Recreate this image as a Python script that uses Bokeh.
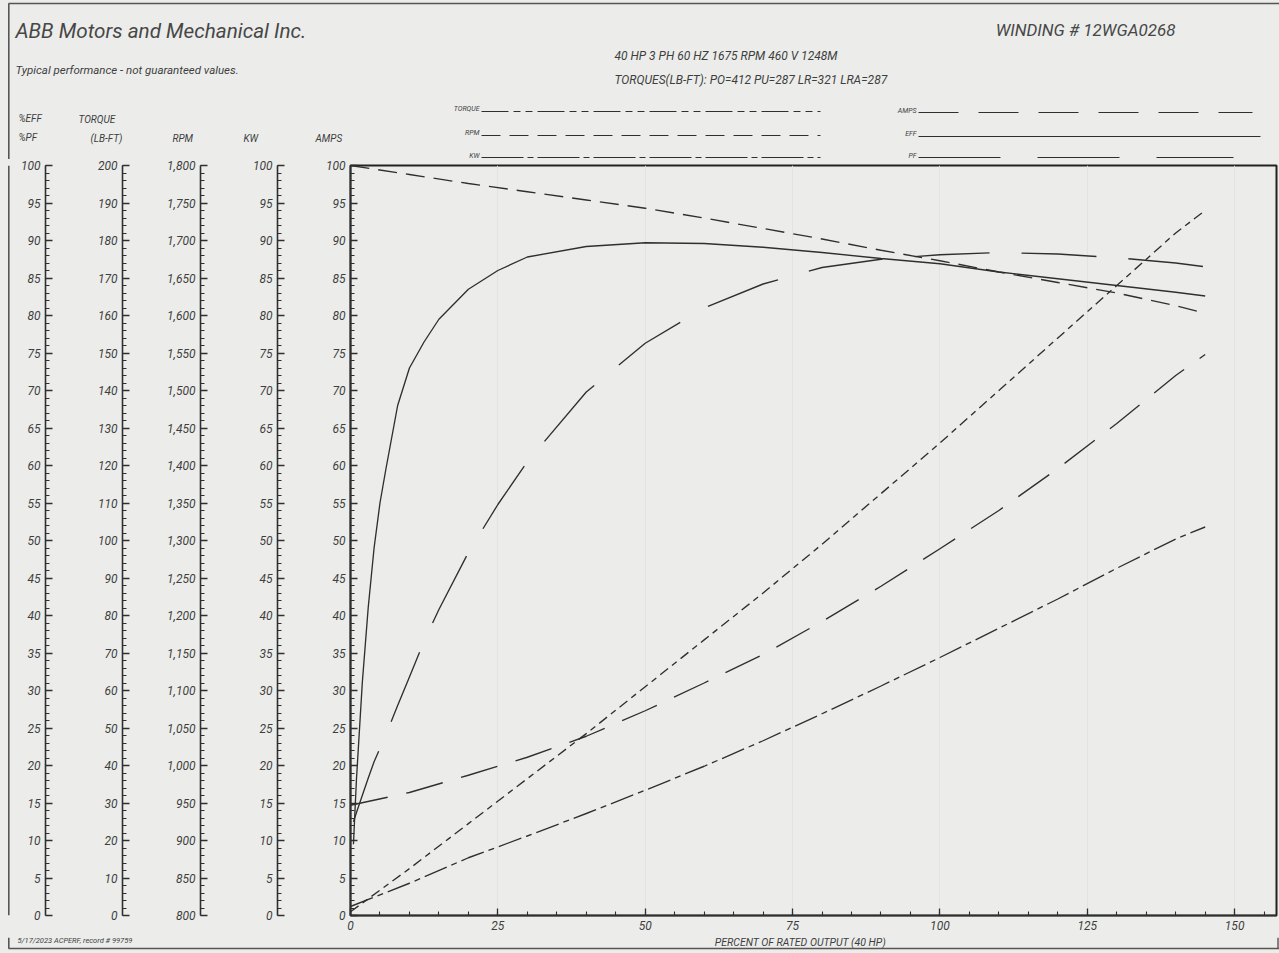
from bokeh.plotting import figure
from bokeh.models import Range1d, SingleIntervalTicker, NumeralTickFormatter
from bokeh.layouts import row, column
from bokeh.embed import file_html
from bokeh.resources import INLINE
from bokeh.core.properties import value

# ---------------- data ----------------
# percent of rated output for the steep efficiency / power-factor curves
LOAD_FINE = [0.5, 1, 2, 3, 4, 5, 6, 8, 10, 12.5, 15, 20, 25, 30, 40, 50,
             60, 70, 80, 90, 100, 110, 120, 130, 140, 145]
EFF_PCT = [9.5, 18, 31, 41, 49, 55, 59.5, 68, 73, 76.5, 79.5, 83.5, 86, 87.8,
           89.2, 89.7, 89.6, 89.1, 88.4, 87.6, 86.9, 85.8, 84.9, 84.0, 83.1, 82.6]
PF_PCT = [12.5, 13.7, 16, 18.3, 20.5, 22.3, 24.1, 28, 31.8, 36.6, 40.8, 48.4,
          54.8, 60.5, 69.8, 76.3, 81, 84.2, 86.4, 87.5, 88.1, 88.4, 88.2, 87.7,
          87.0, 86.5]

# percent of rated output for the other curves
LOAD = [0, 10, 20, 30, 40, 50, 60, 70, 80, 90, 100, 110, 120, 130, 140, 145]
TORQUE_LBFT = [1, 12.5, 24.5, 36.5, 48.5, 61, 73.5, 86, 99, 112.5, 126, 140,
               154, 168, 182, 188]
RPM = [1800, 1788, 1776, 1765, 1754, 1743, 1730, 1716, 1702, 1687, 1673, 1658,
       1644, 1630, 1613, 1603]
KW = [1.2, 4.3, 7.7, 10.6, 13.6, 16.7, 19.9, 23.3, 26.9, 30.6, 34.4, 38.3,
      42.2, 46.3, 50.2, 51.8]
AMPS = [14.7, 16.4, 18.7, 21.1, 23.9, 27.3, 31.0, 34.8, 39.2, 43.9, 48.9, 54.0,
        59.6, 65.6, 72.0, 74.8]

# scale limits and tick steps
PCT_LIM = (0, 100)
TORQUE_LIM = (0, 200)
RPM_LIM = (800, 1800)
KW_LIM = (0, 100)
AMPS_LIM = (0, 100)
X_LIM = (0, 157.1)
PCT_STEP, TORQUE_STEP, RPM_STEP, KW_STEP, AMPS_STEP, X_STEP = 5, 10, 50, 5, 5, 25

# ---------------- style ----------------
BG = "#ecedeb"
INK = "#2f2f2f"
TXT = "#3e3e3e"
EDGE = "#555555"
FONT = "Roboto"
NARROW = "Liberation Sans Narrow, Roboto"
LW = 1.35

W = 1279
HEAD_H = 159
ROW_H = 6 + 750 + 22
FOOT_H = 16


def style_axis(ax, step, fmt=None):
    ax.ticker = SingleIntervalTicker(interval=step, num_minor_ticks=5)
    ax.axis_line_color = INK
    ax.axis_line_width = 1.6
    ax.major_tick_line_color = INK
    ax.major_tick_line_width = 1.3
    ax.minor_tick_line_color = INK
    ax.minor_tick_line_width = 1.1
    ax.major_tick_in = 7
    ax.major_tick_out = 0
    ax.minor_tick_in = 4
    ax.minor_tick_out = 0
    ax.major_label_text_font = FONT
    ax.major_label_text_font_style = "italic"
    ax.major_label_text_font_size = "12px"
    ax.major_label_text_color = TXT
    ax.major_label_standoff = 5
    if fmt is not None:
        ax.formatter = fmt


def base(width, height, **kw):
    opts = dict(width=width, height=height, output_backend="svg",
                toolbar_location=None, background_fill_color=BG,
                border_fill_color=BG, outline_line_color=None,
                styles={"background-color": BG})
    opts.update(kw)
    return figure(**opts)


def txt(p, x, y, s, size, font=NARROW, align="left", style="italic", color=TXT):
    p.text(x=[x], y=[y], text=[s], text_font=value(font), text_font_size=size,
           text_font_style=style, text_color=color, text_align=align,
           text_baseline="middle")


r_pct = Range1d(*PCT_LIM)
r_torque = Range1d(*TORQUE_LIM)
r_rpm = Range1d(*RPM_LIM)
r_kw = Range1d(*KW_LIM)
r_amps = Range1d(*AMPS_LIM)

# ---------------- header ----------------
head = base(W, HEAD_H, x_range=Range1d(0, W), y_range=Range1d(HEAD_H, 0),
            x_axis_type=None, y_axis_type=None, min_border=0)
head.grid.visible = False

txt(head, 15, 30, "ABB Motors and Mechanical Inc.", "20.7px", font=FONT, color="#474747")
txt(head, 15, 69, "Typical performance - not guaranteed values.", "11.5px")
txt(head, 1175, 29, "WINDING # 12WGA0268", "17px", font=FONT, align="right", color="#474747")
txt(head, 614, 55, "40 HP  3 PH  60 HZ  1675 RPM  460 V  1248M", "12px")
txt(head, 614, 79, "TORQUES(LB-FT): PO=412  PU=287  LR=321  LRA=287", "12px")

# axis headers
txt(head, 18, 118, "%EFF", "10px")
txt(head, 18, 137, "%PF", "10px")
txt(head, 78, 119, "TORQUE", "10px")
txt(head, 90, 138, "(LB-FT)", "10px")
txt(head, 172, 138, "RPM", "10px")
txt(head, 243, 138, "KW", "10px")
txt(head, 315, 138, "AMPS", "10px")

# legend
LEG = [
    ("TORQUE", 479, 108, 481, 820, 111, "27 5 7 5 7 5"),
    ("RPM", 479, 132, 481, 820, 135, "19 9"),
    ("KW", 479, 155, 481, 820, 157, "42 4 6 4"),
    ("AMPS", 916, 110, 918, 1252, 112, "40 20"),
    ("EFF", 916, 133, 918, 1260, 136, "solid"),
    ("PF", 916, 155, 918, 1233, 157, "82 37"),
]
for name, lx, ly, x0, x1, yy, dash in LEG:
    txt(head, lx, ly, name, "7px", align="right")
    head.line(x=[x0, x1], y=[yy, yy], line_color=INK, line_width=1.2, line_dash=dash)

# outer page frame (top and left)
head.line(x=[8, W], y=[3, 3], line_color=EDGE, line_width=1.6)
head.line(x=[8.3, 8.3], y=[3, HEAD_H], line_color=EDGE, line_width=1.6)

# ---------------- scale columns ----------------
edge = base(10, ROW_H, x_range=Range1d(0, 10), y_range=Range1d(0, 1),
            x_axis_type=None, y_axis_type=None, min_border=0)
edge.grid.visible = False
edge.line(x=[8.3, 8.3], y=[0, 1], line_color=EDGE, line_width=1.6)


def scale_fig(width, border, yr, step, fmt=None):
    p = base(width, ROW_H, x_range=Range1d(0, 1), y_range=yr, x_axis_type=None,
             min_border_left=border, min_border_right=0, min_border_top=6,
             min_border_bottom=22)
    p.grid.visible = False
    style_axis(p.yaxis[0], step, fmt)
    return p


f_eff = scale_fig(65, 35, r_pct, PCT_STEP)
f_tq = scale_fig(75, 47, r_torque, TORQUE_STEP)
f_rpm = scale_fig(78, 50, r_rpm, RPM_STEP, NumeralTickFormatter(format="0,0"))
f_kw = scale_fig(77, 49, r_kw, KW_STEP)

# ---------------- main chart ----------------
p = base(974, ROW_H, x_range=Range1d(*X_LIM), y_range=r_amps,
         min_border_left=45, min_border_right=3, min_border_top=6,
         min_border_bottom=22, outline_line_color="#222222", outline_line_width=2)
p.extra_y_ranges = {"pct": r_pct, "torque": r_torque, "rpm": r_rpm, "kw": r_kw}
style_axis(p.yaxis[0], AMPS_STEP)
style_axis(p.xaxis[0], X_STEP)
p.ygrid.visible = False
p.xgrid.grid_line_color = "#e2e4e2"
p.xgrid.grid_line_width = 1

p.line(LOAD_FINE, EFF_PCT, y_range_name="pct", line_color=INK, line_width=LW)
p.line(LOAD_FINE, PF_PCT, y_range_name="pct", line_color=INK, line_width=LW,
       line_dash="75 32")
p.line(LOAD, TORQUE_LBFT, y_range_name="torque", line_color=INK, line_width=LW,
       line_dash="10 5 6 5")
p.line(LOAD, RPM, y_range_name="rpm", line_color=INK, line_width=LW,
       line_dash="19 9")
p.line(LOAD, KW, y_range_name="kw", line_color=INK, line_width=LW,
       line_dash="24 5 6 5")
p.line(LOAD, AMPS, line_color=INK, line_width=LW, line_dash="38 19")

# ---------------- footer ----------------
y0 = HEAD_H + ROW_H
foot = base(W, FOOT_H, x_range=Range1d(0, W), y_range=Range1d(y0 + FOOT_H, y0),
            x_axis_type=None, y_axis_type=None, min_border=0)
foot.grid.visible = False
txt(foot, 17, 940, "5/17/2023 ACPERF, record # 99759", "7.5px")
txt(foot, 800, 942, "PERCENT OF RATED OUTPUT (40 HP)", "10.5px", align="center")
foot.line(x=[8.3, 8.3], y=[y0, 948], line_color=EDGE, line_width=1.6)
foot.line(x=[8, W], y=[948, 948], line_color=EDGE, line_width=1.6)
foot.line(x=[1277.5, 1277.5], y=[y0, 948], line_color=EDGE, line_width=1.4)

layout = column(head,
                row(edge, f_eff, f_tq, f_rpm, f_kw, p, styles={"background-color": BG}),
                foot, styles={"background-color": BG})

open("out.html", "w").write(file_html(layout, INLINE))
